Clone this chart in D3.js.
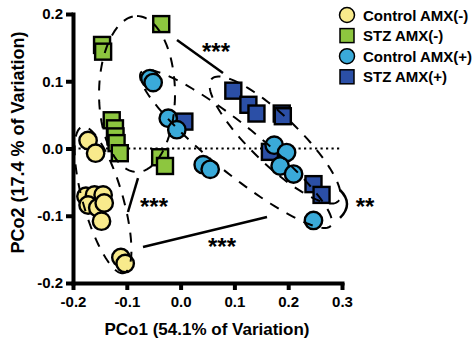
<!DOCTYPE html>
<html><head><meta charset="utf-8">
<script src="https://cdn.jsdelivr.net/npm/d3@7"></script>
<style>body{margin:0;background:#fff}svg{display:block}text{font-family:"Liberation Sans",Arial,sans-serif;font-weight:bold}</style>
</head><body>
<script>
// ---- data (PCo1, PCo2) ----
const seriesNames = ["Control AMX(-)", "STZ AMX(-)", "Control AMX(+)", "STZ AMX(+)"];
const controlMinus = [[-0.172,0.012],[-0.158,-0.007],[-0.176,-0.071],[-0.160,-0.069],[-0.144,-0.069],
  [-0.172,-0.084],[-0.154,-0.088],[-0.142,-0.081],[-0.147,-0.108],[-0.111,-0.162],[-0.103,-0.171]];
const stzMinus = [[-0.036,0.185],[-0.146,0.154],[-0.144,0.144],[-0.128,0.042],[-0.122,0.030],
  [-0.121,0.018],[-0.119,0.008],[-0.113,-0.007],[-0.038,-0.013],[-0.029,-0.026]];
const controlPlus = [[-0.057,0.104],[-0.051,0.098],[-0.023,0.045],[-0.007,0.028],[0.042,-0.024],
  [0.055,-0.031],[0.174,0.005],[0.197,-0.006],[0.185,-0.026],[0.210,-0.038],[0.247,-0.107]];
const stzPlus = [[0.007,0.040],[0.098,0.086],[0.126,0.065],[0.141,0.052],[0.188,0.052],
  [0.190,0.048],[0.166,-0.005],[0.247,-0.053],[0.262,-0.069]];
const xTicks = [-0.2, -0.1, 0.0, 0.1, 0.2, 0.3];
const yTicks = [-0.2, -0.1, 0.0, 0.1, 0.2];
const xTitle = "PCo1 (54.1% of Variation)";
const yTitle = "PCo2 (17.4 % of Variation)";
// group ellipses: centre, axis vectors (data units)
const ellipses = [
  {c:[-0.1442,-0.0766], a:[0.0389,-0.1087], b:[-0.0357,-0.0082]},
  {c:[-0.081,0.081], a:[0,0.116], b:[0.0706,0]},
  {c:[0.103,-0.0007], a:[0.1762,-0.1142], b:[-0.0281,-0.0277]},
  {c:[0.1755,0.0126], a:[0.1177,-0.0909], b:[-0.031,-0.0257]}
];
// significance lines and labels (data units)
const sigLines = [
  {from:[-0.0067,0.1613], to:[0.0788,0.1123], label:"***", at:[0.0658,0.1494]},
  {from:[-0.0699,-0.1465], to:[0.1606,-0.1019], label:"***", at:[0.0770,-0.1405]},
  {from:[-0.0792,-0.0439], to:[-0.0978,-0.0944], label:"***", at:[-0.0494,-0.0810]}
];
const bracket = {top:[0.2963,-0.0617], mid:[0.3093,-0.0825], bottom:[0.2963,-0.1033], label:"**", at:[0.3428,-0.0810]};

const W = 475, H = 348;
const colors = ["#F8EA8C", "#8DC63F", "#3AAAD9", "#2B4FA6"];
const shapes = ["circle", "square", "circle", "square"];
const allSeries = [controlMinus, stzMinus, controlPlus, stzPlus];

const x = d3.scaleLinear().domain([-0.2, 0.3]).range([73, 342]);
const y = d3.scaleLinear().domain([-0.2, 0.2]).range([283, 14]);

const svg = d3.select("body").append("svg").attr("width", W).attr("height", H);
svg.append("rect").attr("width", W).attr("height", H).attr("fill", "#fff");

// zero dotted line
svg.append("line").attr("x1", x(-0.2)).attr("x2", x(0.3)).attr("y1", y(0)).attr("y2", y(0))
  .attr("stroke", "#000").attr("stroke-width", 2.2).attr("stroke-dasharray", "2.2,3.3");

// markers
const order = [0, 1, 3, 2];
order.forEach(i => {
  const g = svg.append("g");
  allSeries[i].forEach(p => {
    if (shapes[i] === "circle") {
      g.append("circle").attr("cx", x(p[0])).attr("cy", y(p[1])).attr("r", 8.7)
        .attr("fill", colors[i]).attr("stroke", "#000").attr("stroke-width", 2.4);
    } else {
      g.append("rect").attr("x", x(p[0]) - 8).attr("y", y(p[1]) - 8).attr("width", 16).attr("height", 16)
        .attr("fill", colors[i]).attr("stroke", "#000").attr("stroke-width", 2.4);
    }
  });
});

// ellipses
const lineGen = d3.line().curve(d3.curveLinearClosed);
ellipses.forEach(e => {
  const pts = d3.range(0, 360, 3).map(deg => {
    const t = deg * Math.PI / 180;
    const px = e.c[0] + Math.cos(t) * e.a[0] + Math.sin(t) * e.b[0];
    const py = e.c[1] + Math.cos(t) * e.a[1] + Math.sin(t) * e.b[1];
    return [x(px), y(py)];
  });
  svg.append("path").attr("d", lineGen(pts)).attr("fill", "none").attr("stroke", "#000")
    .attr("stroke-width", 2).attr("stroke-dasharray", "10,9");
});

// significance lines
sigLines.forEach(s => {
  svg.append("line").attr("x1", x(s.from[0])).attr("y1", y(s.from[1])).attr("x2", x(s.to[0])).attr("y2", y(s.to[1]))
    .attr("stroke", "#000").attr("stroke-width", 2.5);
  svg.append("text").attr("x", x(s.at[0])).attr("y", y(s.at[1]) + 12).attr("text-anchor", "middle")
    .attr("font-size", 24).text(s.label);
});
svg.append("path")
  .attr("d", `M${x(bracket.top[0])},${y(bracket.top[1])} Q${x(bracket.mid[0]) + 7},${y(bracket.mid[1])} ${x(bracket.bottom[0])},${y(bracket.bottom[1])}`)
  .attr("fill", "none").attr("stroke", "#000").attr("stroke-width", 2.5);
svg.append("text").attr("x", x(bracket.at[0])).attr("y", y(bracket.at[1]) + 12).attr("text-anchor", "middle")
  .attr("font-size", 24).text(bracket.label);

// axes
const xAxis = d3.axisBottom(x).tickValues(xTicks).tickSize(7).tickSizeOuter(0).tickPadding(6)
  .tickFormat(d3.format(".1f"));
const yAxis = d3.axisLeft(y).tickValues(yTicks).tickSize(7).tickSizeOuter(0).tickPadding(3)
  .tickFormat(d3.format(".1f"));
const gx = svg.append("g").attr("transform", `translate(0,${y(-0.2)})`).call(xAxis);
const gy = svg.append("g").attr("transform", `translate(${x(-0.2)},0)`).call(yAxis);
[gx, gy].forEach(g => {
  g.select(".domain").attr("stroke", "#000").attr("stroke-width", 4).attr("stroke-linecap", "square");
  g.selectAll(".tick line").attr("stroke", "#000").attr("stroke-width", 4);
  g.selectAll(".tick text").attr("fill", "#000").attr("font-size", 15)
    .style("font-family", '"Liberation Sans",Arial,sans-serif').style("font-weight", "bold");
  g.attr("font-family", null).attr("font-size", null);
});
gx.selectAll(".tick text").text(d => d3.format(".1f")(d).replace("−", "-"));
gy.selectAll(".tick text").text(d => d3.format(".1f")(d).replace("−", "-"));

svg.append("text").attr("x", 207).attr("y", 335).attr("text-anchor", "middle").attr("font-size", 17).text(xTitle);
svg.append("text").attr("transform", `translate(24,${y(0) - 6}) rotate(-90)`).attr("text-anchor", "middle")
  .attr("font-size", 18).text(yTitle);

// legend
const lg = svg.append("g");
seriesNames.forEach((n, i) => {
  const cy = 15 + i * 20.6, cx = 347;
  if (shapes[i] === "circle") {
    lg.append("circle").attr("cx", cx).attr("cy", cy).attr("r", 7.5).attr("fill", colors[i]).attr("stroke", "#000").attr("stroke-width", 1.5);
  } else {
    lg.append("rect").attr("x", cx - 7).attr("y", cy - 7).attr("width", 14).attr("height", 14).attr("fill", colors[i]).attr("stroke", "#000").attr("stroke-width", 1.5);
  }
  lg.append("text").attr("x", 363).attr("y", cy + 5.5).attr("font-size", 15).text(n);
});
</script>
</body></html>
